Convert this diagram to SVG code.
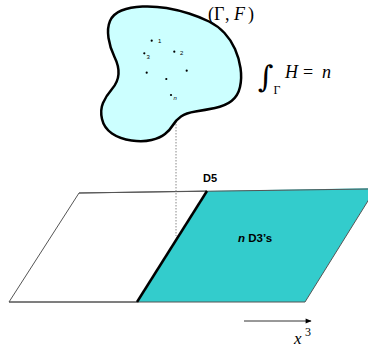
<svg xmlns="http://www.w3.org/2000/svg" width="368" height="348" viewBox="0 0 368 348">
<defs>
<style>
.math{font-family:"Liberation Serif","DejaVu Serif",serif;fill:#000}
.it{font-style:italic}
.lab{font-family:"Liberation Sans",Arial,sans-serif;font-weight:bold;fill:#000}
.tiny{font-family:"Liberation Sans",Arial,sans-serif;font-size:6px;fill:#000}
.dot{fill:#000}
.edge{stroke:#555;stroke-width:1;fill:none}
</style>
<marker id="ah" viewBox="0 0 10 10" refX="9" refY="5" markerWidth="7" markerHeight="6" orient="auto" markerUnits="userSpaceOnUse">
<path d="M0,1 L10,5 L0,9 Z" fill="#000"/>
</marker>
</defs>
<rect width="368" height="348" fill="#fff"/>
<g id="plane">
<polygon points="79,193 207,191 137,302 9,302" fill="#fff" class="edge"/>
<polygon points="207,191 376,188 305,302 137,302" fill="#33CCCC"/>
<line x1="79" y1="193" x2="368" y2="189" class="edge"/>
<line x1="9" y1="302" x2="305" y2="302" class="edge"/>
<line x1="376" y1="188" x2="305" y2="302" class="edge"/>
</g>
<g id="connectors">
<line x1="176" y1="118" x2="176" y2="236" stroke="#888" stroke-width="1" stroke-dasharray="1.5,1.5"/>
<line x1="244" y1="321" x2="311" y2="321" stroke="#333" stroke-width="1" marker-end="url(#ah)"/>
</g>
<g id="D5">
<line x1="207" y1="191" x2="137" y2="302" stroke="#000" stroke-width="2.5"/>
<text x="203" y="182" class="lab" font-size="11">D5</text>
</g>
<g id="D3">
<text x="238" y="242" class="lab" font-size="11.5"><tspan font-style="italic">n</tspan> D3’s</text>
</g>
<g id="blob">
<path d="M108.5,38 Q107,28 110,21 Q113,14 121.5,10.5 Q130,7 142.5,6.5 Q155,6 166.5,8 Q178,10 189,13.5 Q200,17 209,21.5 Q218,26 224.5,33 Q231,40 235,49 Q239,58 240.5,68 Q242,78 240,87 Q238,96 231.5,101 Q225,106 215,108 Q205,110 195.5,111.5 Q186,113 181,116.5 Q176,120 173,125 Q170,130 165,134 Q160,138 151.5,140 Q143,142 131.5,140.5 Q120,139 112,133.5 Q104,128 102,119 Q100,110 103,103 Q106,96 112,89 Q118,82 118.5,74 Q119,66 114.5,57 Q110,48 108.5,38 Z" fill="#CCFFFF" stroke="#000" stroke-width="2.5"/>
<circle class="dot" cx="151.7" cy="40.7" r="1.1"/>
<circle class="dot" cx="144.3" cy="53.3" r="1.1"/>
<circle class="dot" cx="174.3" cy="51.7" r="1.1"/>
<circle class="dot" cx="146.7" cy="72.7" r="1.1"/>
<circle class="dot" cx="186.7" cy="70.7" r="1.1"/>
<circle class="dot" cx="166.3" cy="79" r="1.1"/>
<circle class="dot" cx="171" cy="95" r="1.1"/>
<text class="tiny" x="158" y="43">1</text>
<text class="tiny" x="180" y="55">2</text>
<text class="tiny" x="146.5" y="59">3</text>
<text class="tiny" x="173.5" y="100" font-style="italic">n</text>
</g>
<g id="gammaF">
<text class="math" y="20" font-size="18"><tspan x="208">(</tspan><tspan x="214">Γ</tspan><tspan x="225">,</tspan><tspan x="234" class="it">F</tspan><tspan x="248">)</tspan></text>
</g>
<g id="integral">
<text x="258" y="87" font-size="30" font-family="'DejaVu Serif',serif" fill="#000">∫</text>
<text class="math" x="273.5" y="94" font-size="12">Γ</text>
<text class="math" y="78" font-size="18"><tspan x="285" class="it">H</tspan><tspan x="303">=</tspan><tspan x="322" class="it">n</tspan></text>
</g>
<g id="axis">
<text class="math it" x="294" y="344" font-size="17">x</text>
<text class="math" x="305" y="336" font-size="12">3</text>
</g>
</svg>
